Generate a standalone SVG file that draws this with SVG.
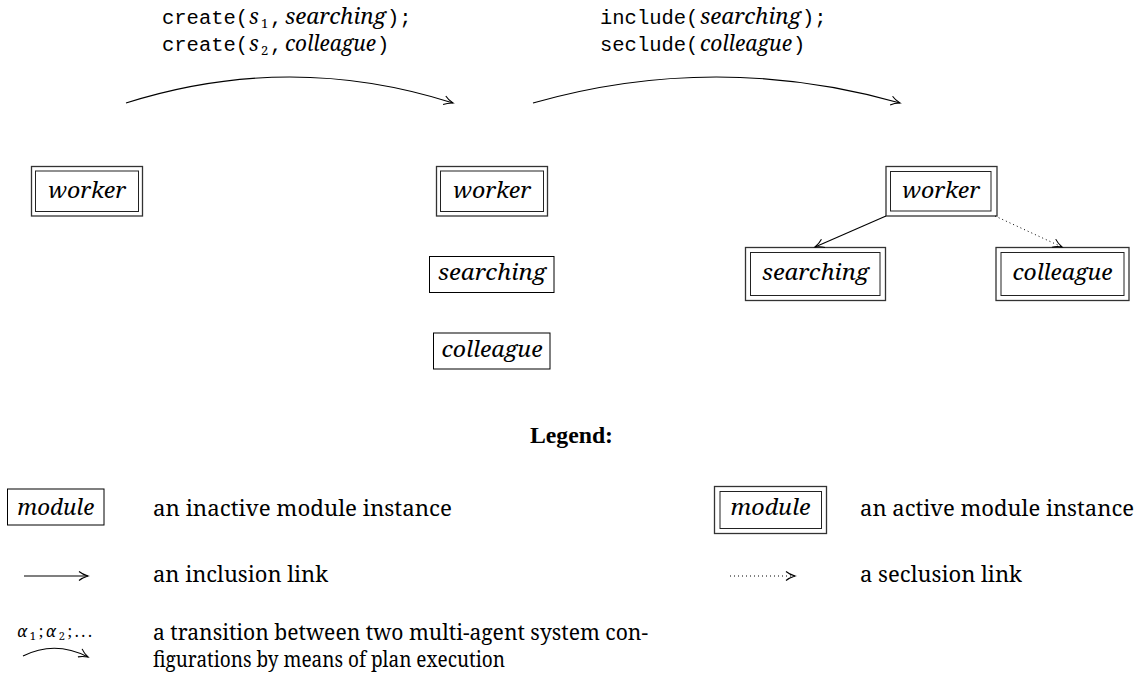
<svg xmlns="http://www.w3.org/2000/svg" width="1145" height="676" viewBox="0 0 1145 676">
  <style>
    .bg { fill: #ffffff; }
    .mono { font-family: "Liberation Mono", monospace; font-size: 20.5px; fill: #000; }
    .it { font-family: "Nimbus Roman", "Noto Serif", "DejaVu Serif Condensed", "DejaVu Serif", serif; font-style: italic; font-size: 21px; fill: #000; }
    .sub { font-family: "Nimbus Roman", "Noto Serif", "DejaVu Serif Condensed", "DejaVu Serif", serif; font-size: 13px; fill: #000; }
    .rm { font-family: "Nimbus Roman", "Noto Serif", "DejaVu Serif Condensed", "DejaVu Serif", serif; font-size: 21px; fill: #000; }
    .bold { font-family: "Liberation Serif", serif; font-size: 24px; font-weight: bold; fill: #000; }
    .small { font-family: "Nimbus Roman", "Noto Serif", "DejaVu Serif Condensed", "DejaVu Serif", serif; font-style: italic; font-size: 16px; fill: #000; }
    .smallsub { font-size: 11px; font-style: normal; }
    .box { fill: #fff; stroke: #000; stroke-width: 1; }
    .outer { fill: #fff; stroke: #333; stroke-width: 1.3; }
    .inner { fill: none; stroke: #222; stroke-width: 1; }
    .edge { fill: none; stroke: #000; stroke-width: 1.1; }
    .dotted { fill: none; stroke: #000; stroke-width: 1; stroke-dasharray: 1 3; }
  </style>
  <defs>
    <marker id="tip" viewBox="-11 -6 13 12" refX="0" refY="0" markerWidth="13" markerHeight="12" markerUnits="userSpaceOnUse" orient="auto">
      <path d="M -9,-4.5 C -6,-2 -2,-0.6 0,0 C -2,0.6 -6,2 -9,4.5" fill="none" stroke="#000" stroke-width="1.1"/>
    </marker>
  </defs>

  <rect class="bg" x="0" y="0" width="1145" height="676"/>

  <!-- plan labels above the transitions -->
  <g id="plan1">
    <text class="mono" x="162" y="24">create(</text>
    <text class="it" x="249" y="24">s</text>
    <text class="sub" x="261" y="28">1</text>
    <text class="mono" x="270" y="24">,</text>
    <text class="it" x="285" y="24" textLength="101" lengthAdjust="spacingAndGlyphs">searching</text>
    <text class="mono" x="387" y="24">);</text>
    <text class="mono" x="162" y="51">create(</text>
    <text class="it" x="249" y="51">s</text>
    <text class="sub" x="261" y="55">2</text>
    <text class="mono" x="270" y="51">,</text>
    <text class="it" x="285" y="51" textLength="91" lengthAdjust="spacingAndGlyphs">colleague</text>
    <text class="mono" x="377" y="51">)</text>
  </g>
  <g id="plan2">
    <text class="mono" x="600" y="24">include(</text>
    <text class="it" x="700" y="24" textLength="101" lengthAdjust="spacingAndGlyphs">searching</text>
    <text class="mono" x="802" y="24">);</text>
    <text class="mono" x="600" y="51">seclude(</text>
    <text class="it" x="700" y="51" textLength="92" lengthAdjust="spacingAndGlyphs">colleague</text>
    <text class="mono" x="793" y="51">)</text>
  </g>

  <!-- configuration 1 -->
  <g id="worker1">
    <rect class="outer" x="31.5" y="166.5" width="111" height="49.5"/>
    <rect class="inner" x="35.5" y="171" width="103" height="40.5"/>
    <text class="it" x="87" y="198" text-anchor="middle" textLength="78" lengthAdjust="spacingAndGlyphs">worker</text>
  </g>

  <!-- configuration 2 -->
  <g id="worker2">
    <rect class="outer" x="436.5" y="166.5" width="111" height="49.5"/>
    <rect class="inner" x="440.5" y="171" width="103" height="40.5"/>
    <text class="it" x="492" y="198" text-anchor="middle" textLength="78" lengthAdjust="spacingAndGlyphs">worker</text>
  </g>
  <g id="searching2">
    <rect class="box" x="429.5" y="256.5" width="124.5" height="36"/>
    <text class="it" x="492" y="280" text-anchor="middle" textLength="108" lengthAdjust="spacingAndGlyphs">searching</text>
  </g>
  <g id="colleague2">
    <rect class="box" x="433.5" y="333" width="116.5" height="36"/>
    <text class="it" x="492" y="357" text-anchor="middle" textLength="101" lengthAdjust="spacingAndGlyphs">colleague</text>
  </g>

  <!-- configuration 3 -->
  <g id="worker3">
    <rect class="outer" x="886" y="166.5" width="111" height="49.5"/>
    <rect class="inner" x="890.5" y="171.5" width="100.5" height="39.5"/>
    <text class="it" x="941" y="198" text-anchor="middle" textLength="78" lengthAdjust="spacingAndGlyphs">worker</text>
  </g>
  <g id="searching3">
    <rect class="outer" x="745.5" y="247.5" width="140" height="53"/>
    <rect class="inner" x="750.5" y="252.5" width="129.5" height="43"/>
    <text class="it" x="815.5" y="280" text-anchor="middle" textLength="107" lengthAdjust="spacingAndGlyphs">searching</text>
  </g>
  <g id="colleague3">
    <rect class="outer" x="996" y="247.5" width="133" height="53"/>
    <rect class="inner" x="1001" y="252.5" width="123" height="43"/>
    <text class="it" x="1062.5" y="280" text-anchor="middle" textLength="100" lengthAdjust="spacingAndGlyphs">colleague</text>
  </g>

  <!-- transitions and links -->
  <g id="connectors">
    <path class="edge" d="M 126,103 Q 290,51 453,103" marker-end="url(#tip)"/>
    <path class="edge" d="M 533,103 Q 716,51 900,103" marker-end="url(#tip)"/>
    <path class="edge" d="M 886,216 L 815,247" marker-end="url(#tip)"/>
    <path class="dotted" d="M 995,216 L 1062,247" marker-end="url(#tip)"/>
  </g>

  <!-- legend -->
  <g id="legend">
    <text class="bold" x="571.5" y="443" text-anchor="middle" textLength="83" lengthAdjust="spacingAndGlyphs">Legend:</text>

    <g id="legend-inactive">
      <rect class="box" x="7.5" y="489" width="96.5" height="36"/>
      <text class="it" x="55.7" y="515" text-anchor="middle" textLength="77" lengthAdjust="spacingAndGlyphs">module</text>
      <text class="rm" x="153" y="516" textLength="299" lengthAdjust="spacingAndGlyphs">an inactive module instance</text>
    </g>
    <g id="legend-active">
      <rect class="outer" x="714.5" y="486.5" width="112" height="47"/>
      <rect class="inner" x="720" y="491.5" width="101.5" height="37"/>
      <text class="it" x="770.5" y="515" text-anchor="middle" textLength="80" lengthAdjust="spacingAndGlyphs">module</text>
      <text class="rm" x="860" y="516" textLength="274" lengthAdjust="spacingAndGlyphs">an active module instance</text>
    </g>
    <g id="legend-inclusion">
      <path class="edge" d="M 24,576 L 88,576" marker-end="url(#tip)"/>
      <text class="rm" x="153" y="582" textLength="175" lengthAdjust="spacingAndGlyphs">an inclusion link</text>
    </g>
    <g id="legend-seclusion">
      <path class="dotted" d="M 730,576 L 795,576" marker-end="url(#tip)"/>
      <text class="rm" x="860" y="582" textLength="162" lengthAdjust="spacingAndGlyphs">a seclusion link</text>
    </g>
    <g id="legend-transition">
      <text class="small" x="17" y="637" textLength="75" lengthAdjust="spacing">α<tspan class="smallsub" dy="3">1</tspan><tspan dy="-3" font-style="normal">;</tspan>α<tspan class="smallsub" dy="3">2</tspan><tspan dy="-3" font-style="normal">;...</tspan></text>
      <path class="edge" d="M 23,656 Q 55,640 88,657" marker-end="url(#tip)"/>
      <text class="rm" x="153" y="640" textLength="495" lengthAdjust="spacingAndGlyphs">a transition between two multi-agent system con-</text>
      <text class="rm" x="153" y="667" textLength="352" lengthAdjust="spacingAndGlyphs">figurations by means of plan execution</text>
    </g>
  </g>
</svg>
